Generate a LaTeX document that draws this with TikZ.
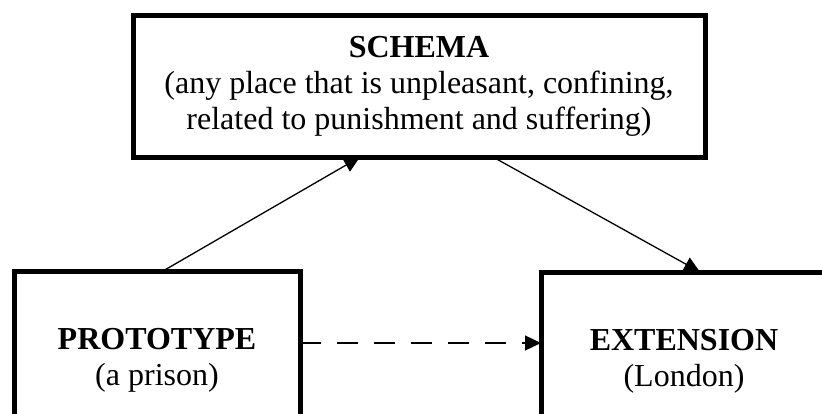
\documentclass[tikz,border=0pt]{standalone}
\usepackage{fontspec}
\setmainfont{Liberation Serif}
\usetikzlibrary{arrows.meta}

\tikzset{
    box/.style = {draw, line width = 5pt, inner sep = 0pt, outer sep = 0pt,
                  align = center, font = \fontsize{32}{36}\selectfont},
    link/.style = {line width = 1.3pt, -{Triangle[length = 16pt, width = 15pt]}},
    hint/.style = {link, dash pattern = on 21pt off 16pt}
}

\begin{document}
\begin{tikzpicture}[x = 1pt, y = -1pt]
    \useasboundingbox (0, 0) rectangle (822, 413);
    % the three boxes
    \node[box, anchor = north west, minimum width = 572pt, minimum height = 142pt]
        (schema) at (133, 15)
        {\textbf{SCHEMA}\\(any place that is unpleasant, confining,\\related to punishment and suffering)};
    \node[box, anchor = north west, minimum width = 286pt, minimum height = 178pt]
        (prototype) at (14, 271) {\textbf{PROTOTYPE}\\(a prison)};
    \node[box, anchor = north west, minimum width = 286pt, minimum height = 178pt]
        (extension) at (541, 272) {\textbf{EXTENSION}\\(London)};
    % connectors
    \draw[link] ([xshift = 6pt]prototype.north) -- ([xshift = -59pt]schema.south);
    \draw[link] ([xshift = 74pt]schema.south) -- ([xshift = 16pt]extension.north);
    \draw[hint] (prototype.east |- 0, 343) -- (extension.west |- 0, 343);
\end{tikzpicture}
\end{document}
